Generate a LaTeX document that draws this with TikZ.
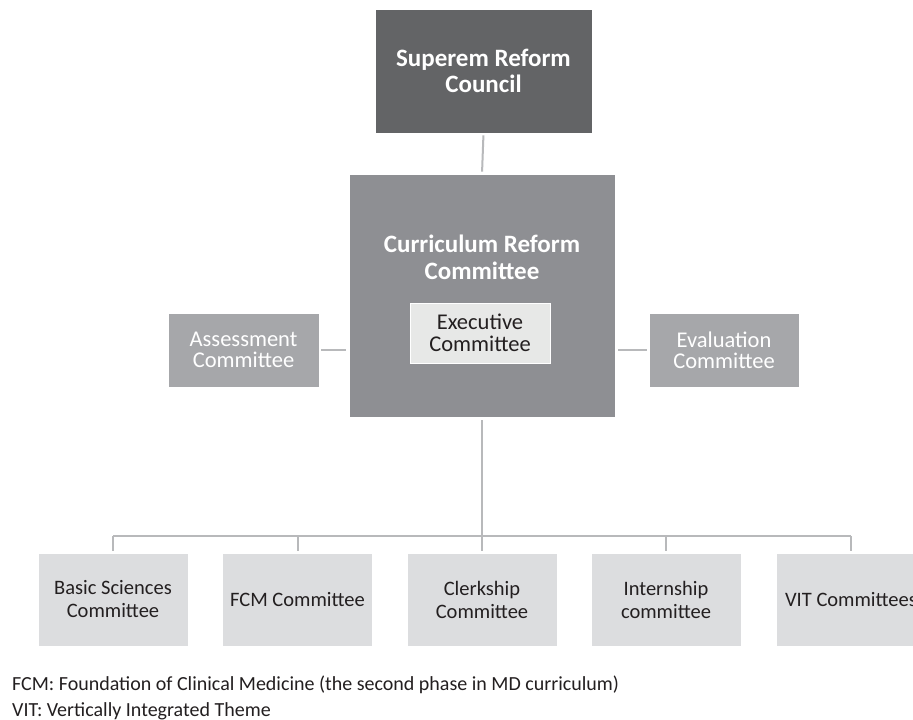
\documentclass[tikz,border=0pt]{standalone}
\usepackage{fontspec}
\setmainfont{Carlito}
\definecolor{cSup}{HTML}{636466}
\definecolor{cCur}{HTML}{8E8F93}
\definecolor{cSide}{HTML}{A6A7AA}
\definecolor{cExe}{HTML}{E7E8E7}
\definecolor{cLow}{HTML}{DCDDDF}
\definecolor{cLine}{HTML}{B8B9BB}
\definecolor{cTxt}{HTML}{231F20}
\tikzset{
  box/.style={draw=white, line width=0.8pt, inner sep=0pt, align=center},
  supbox/.style={box, fill=cSup, text=white, font=\fontsize{25}{26}\selectfont\bfseries, minimum width=217pt, minimum height=124pt},
  curbox/.style={box, fill=cCur, minimum width=266pt, minimum height=243pt},
  sidebox/.style={box, fill=cSide, text=white, font=\fontsize{22.5}{21}\selectfont, minimum width=151pt, minimum height=74pt},
  exebox/.style={box, fill=cExe, text=cTxt, font=\fontsize{22.5}{22}\selectfont, minimum width=140pt, minimum height=60pt},
  lowbox/.style={box, fill=cLow, text=cTxt, font=\fontsize{20.5}{23}\selectfont, minimum width=150pt, minimum height=93pt},
  conn/.style={draw=cLine, line width=2pt},
  note/.style={anchor=base west, inner sep=0pt, text=cTxt, font=\fontsize{20}{26}\selectfont}
}
\begin{document}
\begin{tikzpicture}[x=1pt,y=-1pt]
\fill[white] (0,0) rectangle (913,720);
\useasboundingbox (0,0) rectangle (913,720);
\clip (0,0) rectangle (913,720);

\node[supbox] (sup) at (483.5,71) {Superem Reform\\Council};
\node[curbox] (cur) at (482,295.5) {};
\node[align=center, text=white, inner sep=0pt, font=\fontsize{25}{27}\selectfont\bfseries] (curtxt) at (482,257) {Curriculum Reform\\Committee};
\node[exebox] (exe) at (480,333) {Executive\\Committee};
\node[sidebox] (ass) at (243.5,350) {Assessment\\Committee};
\node[sidebox, minimum width=150pt] (eva) at (724,350) {Evaluation\\Committee};

\node[lowbox] (b1) at (113,599.5) {Basic Sciences\\Committee};
\node[lowbox] (b2) at (297.5,599.5) {FCM Committee};
\node[lowbox] (b3) at (482,599.5) {Clerkship\\Committee};
\node[lowbox] (b4) at (666,599.5) {Internship\\committee};
\node[lowbox] (b5) at (851,599.5) {VIT Committees};

\coordinate (bar) at (482,536);

\draw[conn, shorten <=2pt, shorten >=2pt] (sup.south) -- (cur.north);
\draw[conn, shorten <=2pt, shorten >=3pt] (ass.east) -- (ass.east -| cur.west);
\draw[conn, shorten <=2pt, shorten >=3pt] (eva.west) -- (eva.west -| cur.east);
\draw[conn, shorten <=3pt] (cur.south) -- (bar);
\draw[conn] (bar -| b1) -- (bar -| b5);
\foreach \b in {b1,b2,b3,b4,b5}{
  \draw[conn, shorten >=2pt] (bar -| \b) -- (\b.north);
}

\node[note] (n1) at (12,690) {FCM: Foundation of Clinical Medicine (the second phase in MD curriculum)};
\node[note] (n2) at (12,716) {VIT: Vertically Integrated Theme};
\end{tikzpicture}
\end{document}
